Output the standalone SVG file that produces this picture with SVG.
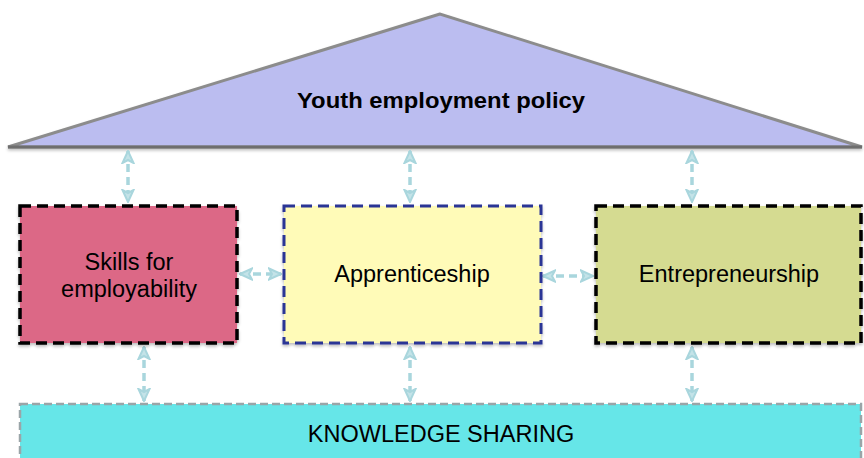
<svg xmlns="http://www.w3.org/2000/svg" width="864" height="458" viewBox="0 0 864 458">
  <style>
    .lbl { font-family: "Liberation Sans", Arial, sans-serif; font-size: 23.5px; fill: #000; text-anchor: middle; }
    .title { font-weight: bold; font-size: 22px; }
    .conn { fill: none; stroke: #A9D6DD; stroke-width: 3.5; stroke-dasharray: 8 5; marker-start: url(#ah); marker-end: url(#ah); }
    .boxblack { stroke: #000; stroke-width: 3.5; stroke-dasharray: 11 6; }
  </style>
  <defs>
    <!-- open chevron head shared by all two-way connectors -->
    <marker id="ah" viewBox="0 0 14 14" refX="13" refY="7" markerWidth="14" markerHeight="14" markerUnits="userSpaceOnUse" orient="auto-start-reverse">
      <path d="M1,1.5 L13,7 L1,12.5 L4,7 Z" fill="#C4E3E8" stroke="#A9D6DD" stroke-width="2" stroke-linejoin="miter"/>
    </marker>
    <filter id="sh" x="-5%" y="-5%" width="110%" height="115%">
      <feDropShadow dx="0" dy="2" stdDeviation="1.5" flood-color="#000" flood-opacity="0.25"/>
    </filter>
  </defs>

  <!-- roof: policy level -->
  <g id="policy">
    <polygon points="440,14 8,147 862,147" fill="#BBBDF0" stroke="#8C8C8C" stroke-width="3" stroke-linejoin="miter" filter="url(#sh)"/>
    <line x1="8" y1="147" x2="862" y2="147" stroke="#6E6E6E" stroke-width="3"/>
    <text class="lbl title" x="441" y="108" textLength="288" lengthAdjust="spacingAndGlyphs">Youth employment policy</text>
  </g>

  <!-- connectors -->
  <g id="connectors">
    <line class="conn" x1="128" y1="151" x2="128" y2="202"/>
    <line class="conn" x1="410" y1="151" x2="410" y2="202"/>
    <line class="conn" x1="692" y1="151" x2="692" y2="202"/>
    <line class="conn" x1="240" y1="274" x2="281" y2="274"/>
    <line class="conn" x1="543" y1="276" x2="593" y2="276"/>
    <line class="conn" x1="144" y1="347" x2="144" y2="401"/>
    <line class="conn" x1="410" y1="347" x2="410" y2="401"/>
    <line class="conn" x1="692" y1="347" x2="692" y2="401"/>
  </g>

  <g id="skills">
    <rect x="20" y="206" width="217" height="137" fill="#DC6786" class="boxblack" filter="url(#sh)"/>
    <text class="lbl" x="129" y="270">Skills for</text>
    <text class="lbl" x="129" y="297">employability</text>
  </g>

  <g id="apprenticeship">
    <rect x="284" y="206" width="257" height="137" fill="#FFFBB8" stroke="#2B3595" stroke-width="3" stroke-dasharray="11 6" filter="url(#sh)"/>
    <text class="lbl" x="412" y="282">Apprenticeship</text>
  </g>

  <g id="entrepreneurship">
    <rect x="596" y="206" width="265" height="137" fill="#D5DB91" class="boxblack" filter="url(#sh)"/>
    <text class="lbl" x="729" y="282">Entrepreneurship</text>
  </g>

  <g id="knowledge">
    <rect x="20" y="404" width="841" height="60" fill="#66E6E8" stroke="#9AA5A8" stroke-width="2.5" stroke-dasharray="8 4"/>
    <text class="lbl" x="441" y="442">KNOWLEDGE SHARING</text>
  </g>
</svg>
